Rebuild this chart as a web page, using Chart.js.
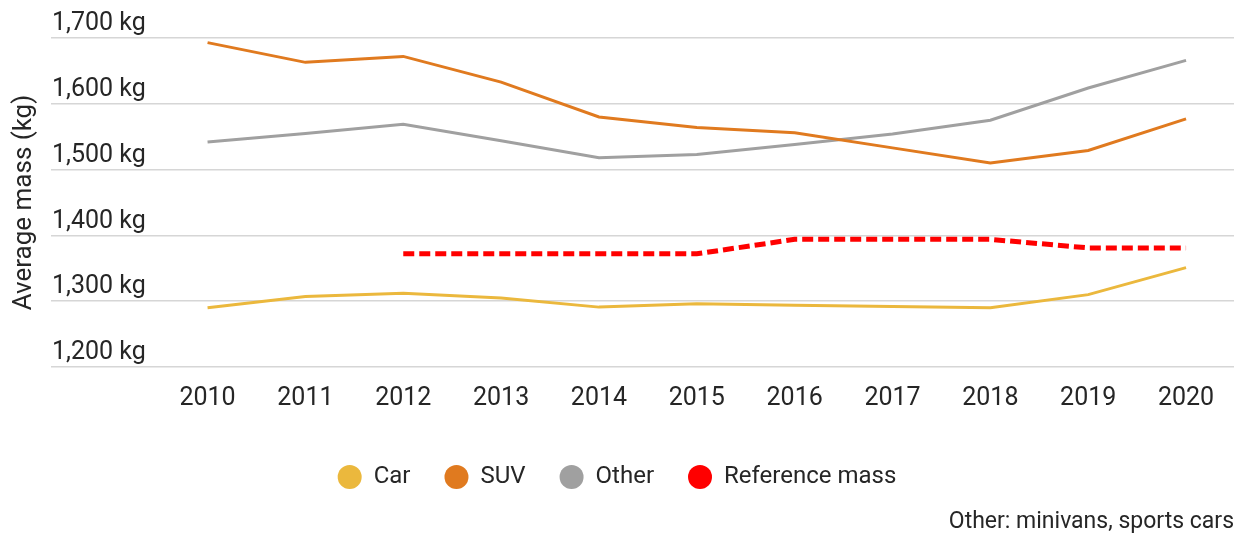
<!DOCTYPE html>
<html>
<head>
<meta charset="utf-8">
<script src="https://cdn.jsdelivr.net/npm/chart.js@4/dist/chart.umd.min.js"></script>
<style>
    body { margin: 0; background: #fff; }
    #wrap { width: 1239px; height: 536px; }
</style>
</head>
<body>
<div id="wrap"><canvas id="massChart"></canvas></div>
<script>
const years = [2010, 2011, 2012, 2013, 2014, 2015, 2016, 2017, 2018, 2019, 2020];
const car = [1290, 1307, 1312, 1305, 1291, 1296, 1294, 1292, 1290, 1310, 1351];
const suv = [1693, 1663, 1672, 1633, 1580, 1564, 1556, 1533, 1510, 1529, 1577];
const other = [1542, 1555, 1569, 1544, 1518, 1523, 1538, 1554, 1575, 1624, 1666];
const refMass = [null, null, 1372, 1372, 1372, 1372, 1394, 1394, 1394, 1381, 1381];
const yTicks = [1200, 1300, 1400, 1500, 1600, 1700];

const font = "Roboto, 'Noto Sans', sans-serif";
const textColor = '#262626';

function points(values) {
    return years.map((yr, i) => ({ x: yr, y: values[i] }));
}

var ctx = document.getElementById('massChart').getContext('2d');
var massChart = new Chart(ctx, {
    type: 'line',
    data: {
        datasets: [{
                label: 'Car',
                data: points(car),
                borderColor: '#ebb83d',
                backgroundColor: '#ebb83d',
                borderWidth: 3
            },
            {
                label: 'SUV',
                data: points(suv),
                borderColor: '#e07a1f',
                backgroundColor: '#e07a1f',
                borderWidth: 3
            },
            {
                label: 'Other',
                data: points(other),
                borderColor: '#a0a0a0',
                backgroundColor: '#a0a0a0',
                borderWidth: 3
            },
            {
                label: 'Reference mass',
                data: points(refMass),
                borderColor: '#ff0000',
                backgroundColor: '#ff0000',
                borderWidth: 5,
                borderDash: [11, 5]
            }
        ]
    },
    options: {
        responsive: true,
        maintainAspectRatio: false,
        animation: false,
        tension: 0,
        pointRadius: 0,
        layout: {
            padding: { top: 38, left: 0, right: 5, bottom: 0 }
        },
        plugins: {
            legend: {
                position: 'bottom',
                labels: {
                    usePointStyle: true,
                    pointStyle: 'circle',
                    pointStyleWidth: 24,
                    boxHeight: 17,
                    padding: 34,
                    color: textColor,
                    font: { family: font, size: 24 },
                    generateLabels: function (chart) {
                        return Chart.defaults.plugins.legend.labels.generateLabels(chart).map(function (item) {
                            item.lineWidth = 0;
                            item.lineDash = [];
                            return item;
                        });
                    }
                }
            },
            subtitle: {
                display: true,
                position: 'bottom',
                align: 'end',
                text: 'Other: minivans, sports cars',
                color: textColor,
                font: { family: font, size: 23, weight: 'normal' },
                padding: { top: 9.4, bottom: 0 }
            },
            tooltip: { enabled: false }
        },
        scales: {
            x: {
                type: 'linear',
                min: 2008.4,
                max: 2020.49,
                afterBuildTicks: function (axis) {
                    axis.ticks = years.map(v => ({ value: v }));
                },
                grid: {
                    display: false,
                    drawTicks: false
                },
                border: { display: false },
                ticks: {
                    color: textColor,
                    padding: 19.5,
                    font: { family: font, size: 25, lineHeight: 1 },
                    callback: v => String(v)
                }
            },
            y: {
                min: 1200,
                max: 1700,
                afterBuildTicks: function (axis) {
                    axis.ticks = yTicks.map(v => ({ value: v }));
                },
                grid: {
                    color: '#d6d6d6',
                    lineWidth: 1.5,
                    drawTicks: false
                },
                border: { display: false },
                title: {
                    display: true,
                    text: 'Average mass (kg)',
                    color: textColor,
                    font: { family: font, size: 26 },
                    padding: { top: 8.4, bottom: 9.4 }
                },
                ticks: {
                    mirror: true,
                    padding: 1,
                    labelOffset: -14,
                    color: textColor,
                    font: { family: font, size: 25 },
                    callback: v => v.toLocaleString('en-US') + ' kg'
                }
            }
        }
    }
});
</script>
</body>
</html>
